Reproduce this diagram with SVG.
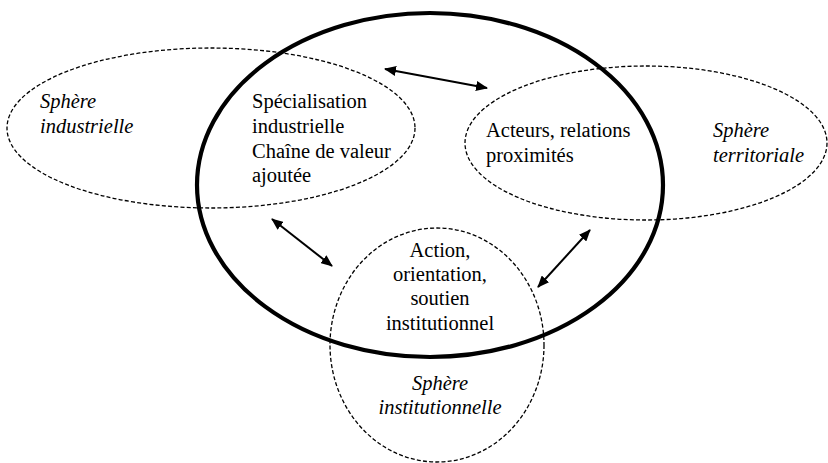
<svg xmlns="http://www.w3.org/2000/svg" width="828" height="463" viewBox="0 0 828 463">
<defs>
<style>
.dash{fill:none;stroke:#000;stroke-width:1.3;stroke-dasharray:4 2.2}
.bold{fill:none;stroke:#000;stroke-width:4.2}
text{font-family:"Liberation Serif","Times New Roman",serif;font-size:20.5px;fill:#000}
.it{font-style:italic}
.c{text-anchor:middle}
.arr{stroke:#000;stroke-width:2;fill:none;marker-start:url(#ah);marker-end:url(#ah)}
</style>
<marker id="ah" viewBox="0 0 12 10" refX="11" refY="5" markerWidth="12" markerHeight="10" markerUnits="userSpaceOnUse" orient="auto-start-reverse">
<path d="M0,0 L12,5 L0,10 Z" fill="#000"/>
</marker>
</defs>
<rect width="828" height="463" fill="#fff"/>
<g id="sphere-industrielle">
<ellipse class="dash" cx="211" cy="128" rx="204" ry="80"/>
<text class="it" x="40" y="108">Sphère</text>
<text class="it" x="40" y="133">industrielle</text>
</g>
<g id="sphere-territoriale">
<ellipse class="dash" cx="646" cy="143" rx="181" ry="77"/>
<text class="it" x="713" y="137">Sphère</text>
<text class="it" x="713" y="162">territoriale</text>
</g>
<g id="sphere-institutionnelle">
<ellipse class="dash" cx="437" cy="345" rx="107" ry="117"/>
<text class="it c" x="440" y="390">Sphère</text>
<text class="it c" x="440" y="414">institutionnelle</text>
</g>
<g id="systeme">
<ellipse class="bold" cx="430" cy="185" rx="233" ry="172"/>
</g>
<g id="specialisation">
<text x="252" y="108">Spécialisation</text>
<text x="252" y="133">industrielle</text>
<text x="252" y="158">Chaîne de valeur</text>
<text x="252" y="182">ajoutée</text>
</g>
<g id="acteurs">
<text x="486" y="137">Acteurs, relations</text>
<text x="486" y="162">proximités</text>
</g>
<g id="action">
<text class="c" x="440" y="257">Action,</text>
<text class="c" x="440" y="281">orientation,</text>
<text class="c" x="440" y="305">soutien</text>
<text class="c" x="440" y="330">institutionnel</text>
</g>
<g id="connectors">
<line class="arr" x1="385" y1="69" x2="487" y2="88"/>
<line class="arr" x1="272" y1="219" x2="332" y2="266"/>
<line class="arr" x1="538" y1="287" x2="590" y2="230"/>
</g>
</svg>
